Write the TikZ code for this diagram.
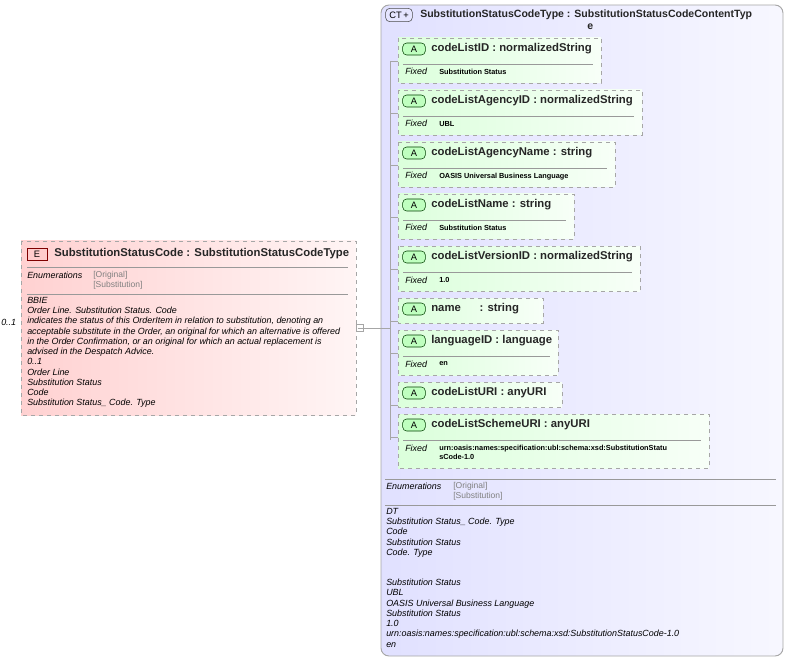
\documentclass[tikz,border=0pt]{standalone}
\usepackage{fontspec}
\setmainfont{Liberation Sans}
\begin{document}
\begin{tikzpicture}[x=0.75pt,y=-0.75pt,
  dbox/.style={draw=gray!70,dashed,line width=0.7pt},
  ttl/.style={anchor=west,font=\bfseries\fontsize{8.5}{9}\selectfont,text=black!85,inner sep=0},
  it/.style={anchor=west,font=\itshape\fontsize{6.7}{7}\selectfont,inner sep=0},
  gr/.style={anchor=west,font=\fontsize{6.4}{7}\selectfont,text=gray,inner sep=0},
  fx/.style={anchor=west,font=\bfseries\fontsize{5.5}{6.6}\selectfont,inner sep=0,align=left},
  sep/.style={draw=gray!80,line width=0.6pt},
  tree/.style={draw=gray!70,line width=0.6pt}]
\useasboundingbox (0,0) rectangle (788,659);
% right complex type box
\draw[draw=gray!70,line width=0.7pt,rounded corners=6pt,left color=blue!12,right color=blue!3] (381,5) rectangle (783,656);
\node[draw=gray!60!black,fill=blue!10,rounded corners=3pt,minimum width=20pt,minimum height=10pt,inner sep=1pt,font=\fontsize{7}{8}\selectfont] (ct) at (399,15) {CT\,+};
\node[ttl,font=\bfseries\fontsize{7.9}{9}\selectfont] (cttitle) at (420,15) {SubstitutionStatusCodeType : SubstitutionStatusCodeContentTyp};
\node[ttl,font=\bfseries\fontsize{7.9}{9}\selectfont] at (587,27) {e};
% left element box
\draw[dbox,left color=red!18,right color=red!4] (21,241) rectangle (356,415);
\node[draw=red!50!black,fill=red!20,minimum width=15pt,minimum height=9pt,inner sep=0,font=\fontsize{7}{8}\selectfont] (e) at (37,254) {E};
\node[ttl] (etitle) at (54,254) {SubstitutionStatusCode : SubstitutionStatusCodeType};
\draw[sep] (27,267) -- (348,267);
\node[it] at (27,275) {Enumerations};
\node[gr] at (93,275) {[Original]};
\node[gr] at (93,285) {[Substitution]};
\draw[sep] (27,294) -- (348,294);
\node[it,align=left,anchor=north west,font=\itshape\fontsize{6.7}{7.68}\selectfont] at (27,297) {BBIE\\Order Line. Substitution Status. Code\\indicates the status of this OrderItem in relation to substitution, denoting an\\acceptable substitute in the Order, an original for which an alternative is offered\\in the Order Confirmation, or an original for which an actual replacement is\\advised in the Despatch Advice.\\0..1\\Order Line\\Substitution Status\\Code\\Substitution Status\_ Code. Type};
\node[it] at (1,322) {0..1};
\node[draw=gray!70,fill=white,minimum width=5.5pt,minimum height=5.5pt,inner sep=0] (col) at (360,328) {};
\draw[gray!70,line width=0.5pt] (357.5,328) -- (362.5,328);
\coordinate (tr) at (390,328);
\draw[tree] (col.east) -- (tr);
\draw[tree] (390,61) -- (390,440);
% attribute boxes
\newcommand\attrbox[6]{%
  \draw[dbox,left color=green!14,right color=green!3] (398,#1) rectangle (#2,#3);
  \node[draw=green!25!black,fill=green!25,rounded corners=3pt,minimum width=17pt,minimum height=9pt,inner sep=0,font=\fontsize{7}{8}\selectfont] (#4) at (414,#1+11) {A};
  \node[ttl] at (431,#1+11) {#5};
  \draw[tree] (390,#1+23) -- (398,#1+23);
  \if\relax\detokenize{#6}\relax\else
   \draw[sep] (403,#1+26) -- (#2-8,#1+26);
   \node[it,anchor=base west] at (405,#1+37) {Fixed};
   \node[fx,anchor=north west] at (439,#1+31) {#6};
  \fi}
\attrbox{38}{601}{83}{a1}{codeListID : normalizedString}{Substitution Status}
\attrbox{90}{642}{135}{a2}{codeListAgencyID : normalizedString}{UBL}
\attrbox{142}{615}{187}{a3}{codeListAgencyName : string}{OASIS Universal Business Language}
\attrbox{194}{574}{239}{a4}{codeListName : string}{Substitution Status}
\attrbox{246}{640}{291}{a5}{codeListVersionID : normalizedString}{1.0}
\attrbox{298}{543}{323}{a6}{name\hspace{14pt}: string}{}
\attrbox{330}{558}{375}{a7}{languageID : language}{en}
\attrbox{382}{562}{407}{a8}{codeListURI : anyURI}{}
\attrbox{414}{709}{468}{a9}{codeListSchemeURI : anyURI}{urn:oasis:names:specification:ubl:schema:xsd:SubstitutionStatu\\sCode-1.0}
% bottom section
\draw[sep] (385,479) -- (776,479);
\node[it] at (386,486) {Enumerations};
\node[gr] at (453,486) {[Original]};
\node[gr] at (453,496) {[Substitution]};
\draw[sep] (385,505) -- (776,505);
\node[it,align=left,anchor=north west,font=\itshape\fontsize{6.7}{7.68}\selectfont] at (386,508) {DT\\Substitution Status\_ Code. Type\\Code\\Substitution Status\\Code. Type\\[15pt]Substitution Status\\UBL\\OASIS Universal Business Language\\Substitution Status\\1.0\\urn:oasis:names:specification:ubl:schema:xsd:SubstitutionStatusCode-1.0\\en};
\end{tikzpicture}
\end{document}
